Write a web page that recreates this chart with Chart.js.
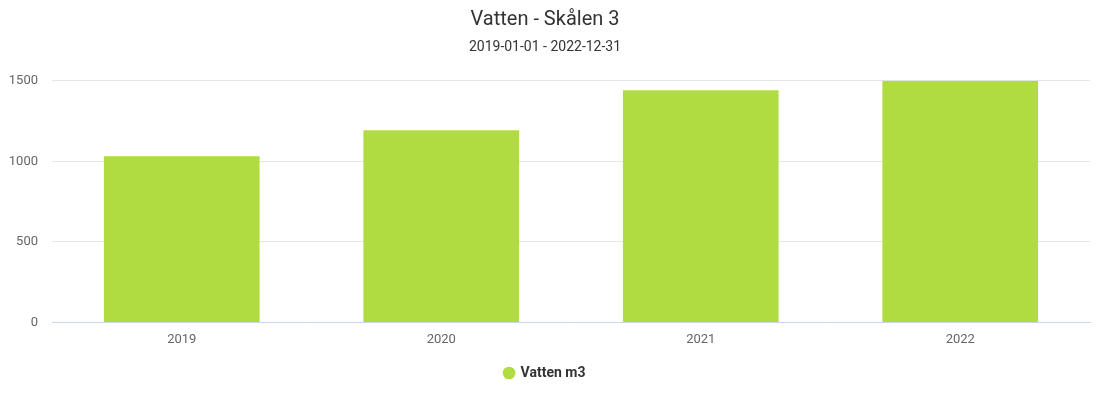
<!DOCTYPE html>
<html>
<head>
<meta charset="utf-8">
<script src="https://cdn.jsdelivr.net/npm/chart.js@4/dist/chart.umd.min.js"></script>
<style>
html,body{margin:0;padding:0;background:#fff;}
canvas{display:block;}
</style>
</head>
<body>
<canvas id="c" width="1100" height="400"></canvas>
<script>
const categories = ["2019", "2020", "2021", "2022"];
const vattenValues = [1032, 1193, 1442, 1500];
const yTicks = [0, 500, 1000, 1500];
const seriesName = "Vatten m3";
const titleText = "Vatten - Skålen 3";
const subtitleText = "2019-01-01 - 2022-12-31";

Chart.defaults.font.family = "Roboto, 'Open Sans', sans-serif";

new Chart(document.getElementById('c'), {
  type: 'bar',
  data: {
    labels: categories,
    datasets: [{
      label: seriesName,
      data: vattenValues,
      backgroundColor: '#b0dc41',
      borderWidth: 0,
      categoryPercentage: 1,
      barPercentage: 0.6
    }]
  },
  options: {
    responsive: false,
    animation: false,
    layout: { padding: { left: 0, right: 10, top: 4, bottom: 10 } },
    plugins: {
      title: {
        display: true, text: titleText, color: '#333333',
        font: { size: 20, weight: 'normal' }, padding: { top: 4, bottom: 7 }
      },
      subtitle: {
        display: true, text: subtitleText, color: '#333333',
        font: { size: 14, weight: 'normal' }, padding: { top: 0, bottom: 25 }
      },
      legend: {
        position: 'bottom',
        labels: {
          usePointStyle: true, pointStyle: 'circle', boxWidth: 9, boxHeight: 9,
          color: '#333333', font: { size: 14, weight: 'bold' }, padding: 10
        }
      },
      tooltip: { enabled: false }
    },
    scales: {
      x: {
        afterFit: s => { s.height += 6; },
        grid: { display: false },
        border: { display: true, color: '#ccd6eb' },
        ticks: { color: '#666666', font: { size: 13 }, padding: 2 }
      },
      y: {
        min: 0, max: 1500,
        afterFit: s => { s.width = 52; },
        afterBuildTicks: s => { s.ticks = yTicks.map(v => ({ value: v })); },
        grid: { color: '#e6e6e6', drawTicks: false },
        border: { display: false },
        ticks: { color: '#666666', font: { size: 13 }, padding: 14, callback: v => String(v) }
      }
    }
  }
});
</script>
</body>
</html>
